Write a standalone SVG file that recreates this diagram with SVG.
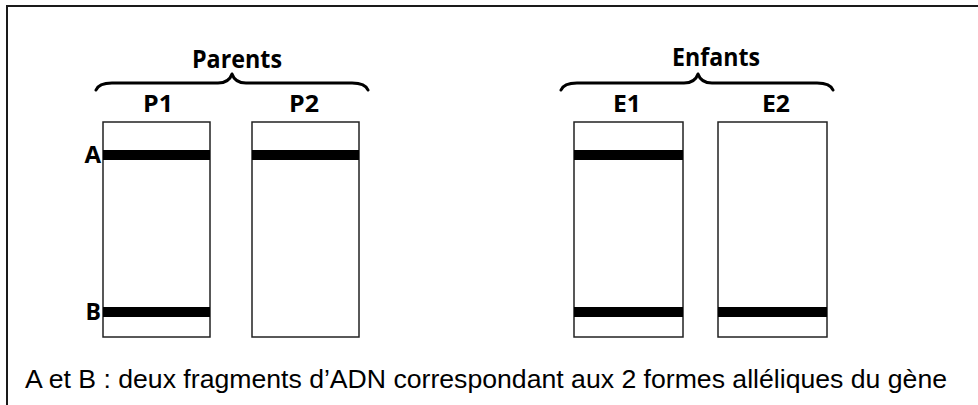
<svg xmlns="http://www.w3.org/2000/svg" width="978" height="405" viewBox="0 0 978 405">
<style>
.frame{fill:none;stroke:#1a1a1a;stroke-width:2}
.box{fill:#fff;stroke:#222;stroke-width:1.5}
.band{fill:#000}
.brace{fill:none;stroke:#000;stroke-width:3;stroke-linecap:round;stroke-linejoin:round}
.t{font-family:"Open Sans","Liberation Sans",sans-serif;font-weight:bold;fill:#000}
.cap{font-family:"Liberation Sans","Open Sans",sans-serif;fill:#000}
</style>
<rect width="978" height="405" fill="#fff"/>
<path class="frame" d="M7,410 V6 H985"/>
<g id="parents-group">
<text class="t" x="237" y="68" font-size="25" text-anchor="middle" textLength="90" lengthAdjust="spacingAndGlyphs">Parents</text>
<path class="brace" d="M96,90 C98,85 103,83 112,83 L218,83 C226,83 230,80 232,74 C234,80 238,83 246,83 L352,83 C361,83 366,85 368,90"/>
</g>
<g id="enfants-group">
<text class="t" x="716" y="66" font-size="25" text-anchor="middle" textLength="88" lengthAdjust="spacingAndGlyphs">Enfants</text>
<path class="brace" d="M561,90 C563,85 568,83 577,83 L684,83 C692,83 696,80 698,74 C700,80 704,83 712,83 L817,83 C826,83 831,85 833,90"/>
</g>
<g id="P1">
<text class="t" x="158" y="112" font-size="23" text-anchor="middle" textLength="30" lengthAdjust="spacingAndGlyphs">P1</text>
<rect class="box" x="103" y="122" width="107" height="215"/>
<rect class="band" x="103" y="150" width="107" height="10"/>
<rect class="band" x="103" y="307" width="107" height="10"/>
</g>
<g id="P2">
<text class="t" x="304" y="112" font-size="23" text-anchor="middle" textLength="30" lengthAdjust="spacingAndGlyphs">P2</text>
<rect class="box" x="252" y="122" width="107" height="215"/>
<rect class="band" x="252" y="150" width="107" height="10"/>
</g>
<g id="E1">
<text class="t" x="627" y="112" font-size="23" text-anchor="middle" textLength="28" lengthAdjust="spacingAndGlyphs">E1</text>
<rect class="box" x="574" y="122" width="109" height="215"/>
<rect class="band" x="574" y="150" width="109" height="10"/>
<rect class="band" x="574" y="307" width="109" height="10"/>
</g>
<g id="E2">
<text class="t" x="776" y="112" font-size="23" text-anchor="middle" textLength="28" lengthAdjust="spacingAndGlyphs">E2</text>
<rect class="box" x="718" y="122" width="109" height="215"/>
<rect class="band" x="718" y="307" width="109" height="10"/>
</g>
<g id="labels">
<text class="t" x="101" y="163" font-size="24" text-anchor="end">A</text>
<text class="t" x="101" y="320" font-size="23" text-anchor="end">B</text>
</g>
<g id="connectors"></g>
<text class="cap" x="25" y="388" font-size="26" textLength="922" lengthAdjust="spacingAndGlyphs">A et B : deux fragments d’ADN correspondant aux 2 formes alléliques du gène</text>
</svg>
